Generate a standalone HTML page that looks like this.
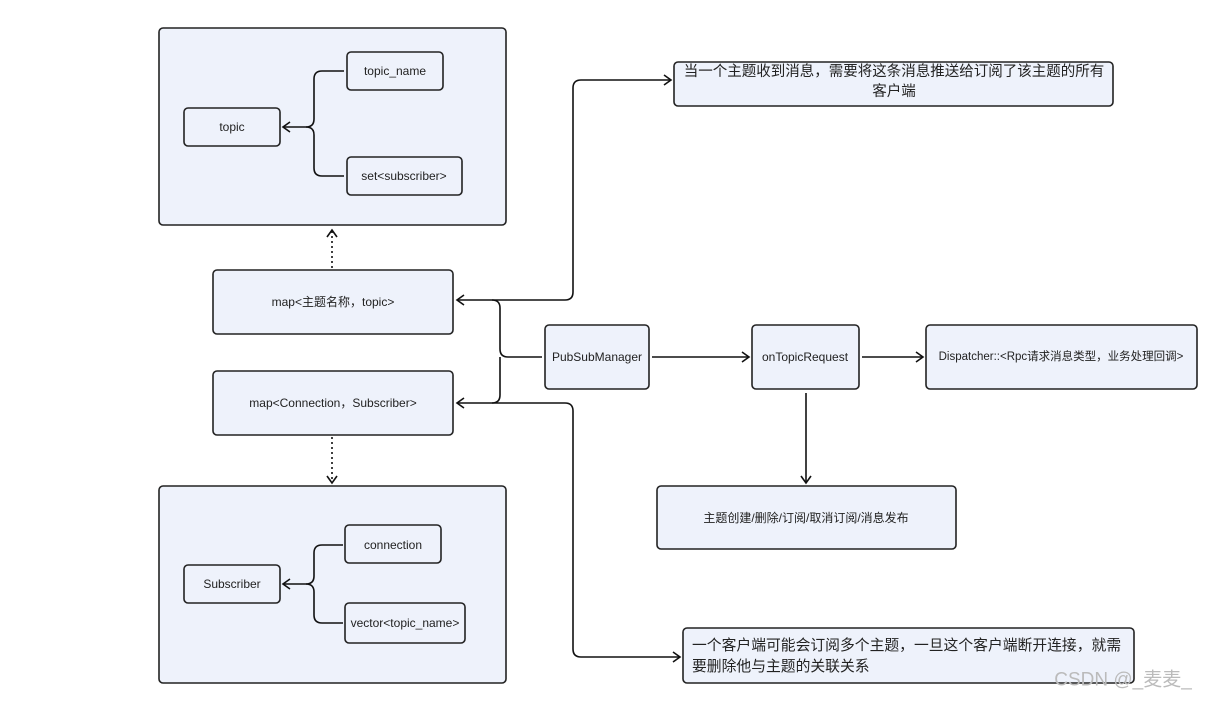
<!DOCTYPE html>
<html><head><meta charset="utf-8"><style>
html,body{margin:0;padding:0;background:#fff;}
svg text{font-family:"Liberation Sans","Noto Sans CJK SC",sans-serif;font-size:12px;fill:#222;text-anchor:middle;dominant-baseline:central;}
</style></head><body>
<svg width="1211" height="698" viewBox="0 0 1211 698" xmlns="http://www.w3.org/2000/svg">
<defs>
<marker id="a" markerWidth="12" markerHeight="12" refX="9" refY="6" orient="auto" markerUnits="userSpaceOnUse">
<path d="M2,1 L9,6 L2,11" fill="none" stroke="#111" stroke-width="1.6"/></marker>
</defs>
<g fill="#eef2fb" stroke="#222" stroke-width="1.6">
<rect x="159" y="28" width="347" height="197" rx="4"/>
<rect x="347" y="52" width="96" height="38" rx="4"/>
<rect x="184" y="108" width="96" height="38" rx="4"/>
<rect x="347" y="157" width="115" height="38" rx="4"/>
<rect x="213" y="270" width="240" height="64" rx="4"/>
<rect x="213" y="371" width="240" height="64" rx="4"/>
<rect x="545" y="325" width="104" height="64" rx="4"/>
<rect x="752" y="325" width="107" height="64" rx="4"/>
<rect x="926" y="325" width="271" height="64" rx="4"/>
<rect x="657" y="486" width="299" height="63" rx="4"/>
<rect x="674" y="62" width="439" height="44" rx="4"/>
<rect x="683" y="628" width="451" height="55" rx="4"/>
<rect x="159" y="486" width="347" height="197" rx="4"/>
<rect x="345" y="525" width="96" height="38" rx="4"/>
<rect x="184" y="565" width="96" height="38" rx="4"/>
<rect x="345" y="603" width="120" height="40" rx="4"/>
</g>
<g fill="none" stroke="#111" stroke-width="1.6">
<path d="M344,71 H322 Q314,71 314,79 V119 Q314,127 306,127 H283" marker-end="url(#a)"/>
<path d="M344,176 H322 Q314,176 314,168 V135 Q314,127 306,127"/>
<path d="M343,545 H322 Q314,545 314,553 V576 Q314,584 306,584 H283" marker-end="url(#a)"/>
<path d="M343,623 H322 Q314,623 314,615 V592 Q314,584 306,584"/>
<path d="M332,268 V230" stroke-dasharray="2,3" marker-end="url(#a)"/>
<path d="M332,437 V483" stroke-dasharray="2,3" marker-end="url(#a)"/>
<path d="M542,357 H508 Q500,357 500,349 V308 Q500,300 492,300 H457" marker-end="url(#a)"/>
<path d="M500,357 V395 Q500,403 492,403 H457" marker-end="url(#a)"/>
<path d="M492,300 H565 Q573,300 573,292 V88 Q573,80 581,80 H671" marker-end="url(#a)"/>
<path d="M492,403 H565 Q573,403 573,411 V649 Q573,657 581,657 H680" marker-end="url(#a)"/>
<path d="M652,357 H749" marker-end="url(#a)"/>
<path d="M862,357 H923" marker-end="url(#a)"/>
<path d="M806,393 V483" marker-end="url(#a)"/>
</g>
<text x="395" y="71">topic_name</text>
<text x="232" y="127">topic</text>
<text x="404" y="176">set&lt;subscriber&gt;</text>
<text x="333" y="302">map&lt;主题名称，topic&gt;</text>
<text x="333" y="403">map&lt;Connection，Subscriber&gt;</text>
<text x="597" y="357">PubSubManager</text>
<text x="805" y="357">onTopicRequest</text>
<text x="1061" y="357" style="font-size:11.5px">Dispatcher::&lt;Rpc请求消息类型，业务处理回调&gt;</text>
<text x="806" y="518">主题创建/删除/订阅/取消订阅/消息发布</text>
<text x="393" y="545">connection</text>
<text x="232" y="584">Subscriber</text>
<text x="405" y="623">vector&lt;topic_name&gt;</text>
<text x="894" y="72" style="font-size:14.5px">当一个主题收到消息，需要将这条消息推送给订阅了该主题的所有</text>
<text x="894" y="92" style="font-size:14.5px">客户端</text>
<text x="692" y="646" style="font-size:14.8px;text-anchor:start">一个客户端可能会订阅多个主题，一旦这个客户端断开连接，就需</text>
<text x="692" y="667" style="font-size:14.8px;text-anchor:start">要删除他与主题的关联关系</text>
<text x="1123" y="680" style="font-size:19px;fill:#bbb">CSDN @_麦麦_</text>
</svg>
</body></html>
